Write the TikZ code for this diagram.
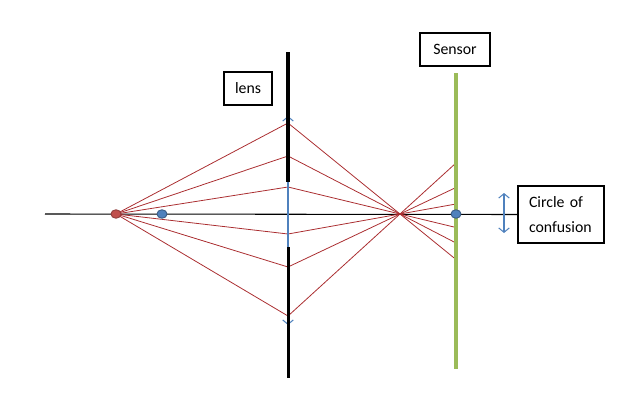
\documentclass[tikz,border=0pt]{standalone}
\usepackage{fontspec}
\setmainfont{Carlito}
\usetikzlibrary{calc,arrows.meta,shapes.geometric}
\definecolor{raycol}{RGB}{170,45,48}
\definecolor{sensorgreen}{RGB}{155,187,89}
\definecolor{dotblue}{RGB}{79,129,189}
\definecolor{dotred}{RGB}{192,80,77}

\begin{document}
\begin{tikzpicture}[x=0.02cm, y=-0.02cm,
    every node/.style={font=\fontsize{9}{14.2}\selectfont},
    >={Straight Barb[length=2.5pt,width=6pt]},
    ray/.style={raycol, line width=0.45pt},
    dot/.style={ellipse, inner sep=0pt, minimum width=0.2cm, minimum height=0.17cm, line width=0.5pt},
    labelbox/.style={draw, line width=0.6pt, inner sep=0pt}]
\useasboundingbox (0,0) rectangle (630,409);
% Named points
\coordinate (axisstart) at (45,214);
\coordinate (focus) at (400,214);
% Labels
\node[labelbox, minimum width=0.96cm, minimum height=0.66cm] (lens) at (248,88.5) {lens};
\node[labelbox, minimum width=1.4cm, minimum height=0.66cm] (sensor) at (455,49.5) {Sensor};
\node[labelbox, text width=1.28cm, inner xsep=0.22cm, minimum height=1.14cm, align=left] (coc) at (561,214.5) {Circle of\\confusion};
% Draw axis
\draw[line width=0.6pt] (axisstart) -- (coc.west);
% Draw rays
\node[dot] (src) at (116,214) {};
\foreach \h in {123,156,187,234,267,316} {
    \coordinate (hit) at (288,\h);
    \draw[ray] (src.center) -- (hit) -- ($(hit)!1.5!(focus)$);
}
% Draw lens
\draw[<->, dotblue, line width=0.6pt] (288,116) -- (288,325);
\draw[line width=2.1pt] (288,52) -- (288,182);
\draw[line width=2.1pt] (288.5,247) -- (288.5,378);
% Draw sensor
\draw[sensorgreen, line width=2.3pt] (456,73) -- (456,369);
% Draw dots
\node[dot, fill=dotred, draw=dotred!75!black] at (src) {};
\node[dot, fill=dotblue, draw=dotblue!70!black] (near) at (162,214) {};
\node[dot, fill=dotblue, draw=dotblue!70!black] (image) at (456,214) {};
% Circle of confusion arrow
\draw[<->, dotblue, line width=0.6pt] (504,193) -- (504,233);
\end{tikzpicture}
\end{document}
